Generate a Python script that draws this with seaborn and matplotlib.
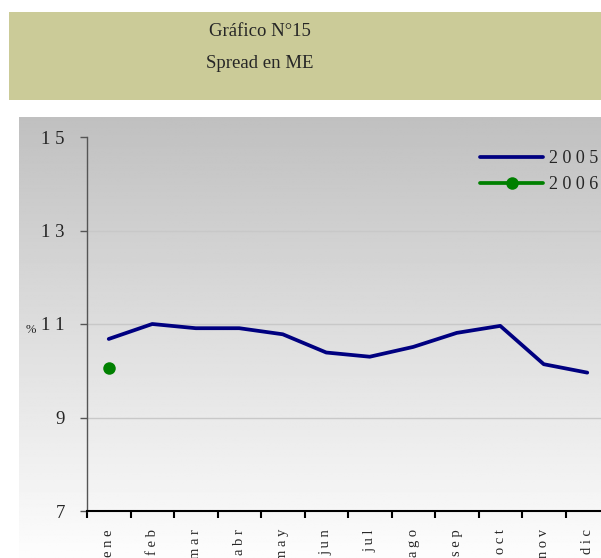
import numpy as np
import pandas as pd
import matplotlib
matplotlib.use("Agg")
import matplotlib.pyplot as plt
import seaborn as sns

meses = ["ene", "feb", "mar", "abr", "may", "jun", "jul", "ago", "sep", "oct", "nov", "dic"]
spread_2005 = [10.68, 11.0, 10.91, 10.91, 10.78, 10.39, 10.30, 10.51, 10.81, 10.96, 10.14, 9.96]
spread_2006 = [10.05]
y_ticks = [7, 9, 11, 13, 15]

sns.set_theme(style="white")
plt.rcParams["font.family"] = ["Liberation Serif", "DejaVu Serif"]


def espaciar(s):
    # el grafico original usa letras separadas
    return " ".join(str(s))


df05 = pd.DataFrame({"mes": meses, "valor": spread_2005})
df06 = pd.DataFrame({"mes": meses[:len(spread_2006)], "valor": spread_2006})

W, H = 601, 558
fig = plt.figure(figsize=(W / 100, H / 100), dpi=100)

# caja del titulo
tbox = fig.add_axes([9 / W, 1 - 100 / H, 1 - 9 / W, 88 / H])
tbox.set_facecolor("#cbcb98")
tbox.set_xticks([])
tbox.set_yticks([])
for s in tbox.spines.values():
    s.set_visible(False)
tbox.text(251 / 592, 0.78, "Gráfico N°15", ha="center", va="center", fontsize=13.5, transform=tbox.transAxes)
tbox.text(251 / 592, 0.41, "Spread en ME", ha="center", va="center", fontsize=13.5, transform=tbox.transAxes)

# fondo degradado del area del grafico
bg = fig.add_axes([19 / W, 0, 1 - 19 / W, (H - 117) / H])
grad = np.linspace(192, 253, 256)[:, None] / 255.0
bg.imshow(np.repeat(grad, 2, axis=1), cmap="gray", vmin=0, vmax=1, aspect="auto", extent=[0, 1, 0, 1], origin="upper")
bg.set_axis_off()

ax = fig.add_axes([87 / W, 47 / H, 522 / W, 374 / H])
ax.set_facecolor("none")

sns.lineplot(data=df05, x="mes", y="valor", color="#000080", lw=2.7, ax=ax, label=espaciar(2005))
sns.lineplot(data=df06, x="mes", y="valor", color="#008000", lw=2.7, marker="o", markersize=9,
             markeredgewidth=0, ax=ax, label=espaciar(2006))

ax.set_xlim(-0.5, 11.5)
ax.set_ylim(7, 15)
ax.set_yticks(y_ticks)
ax.set_yticklabels([espaciar(v) for v in y_ticks], fontsize=13.5)
ax.set_xticks(np.arange(-0.5, 12, 1))
ax.set_xticklabels([])
ax.set_xticks(range(len(meses)), minor=True)
ax.set_xticklabels([espaciar(m) for m in meses], minor=True, rotation=90, fontsize=10.5, va="top", ha="center")
ax.tick_params(axis="x", which="major", length=5, width=1.5, color="black", direction="out", bottom=True)
ax.tick_params(axis="x", which="minor", length=0, pad=13)
ax.tick_params(axis="y", length=5, width=1, color="#555555", direction="out", left=True, pad=11)
ax.set_xlabel("")
ax.set_ylabel("%", rotation=0, fontsize=9, va="center")
ax.yaxis.set_label_coords(-0.107, 0.484)

for v in [9, 11, 13]:
    ax.axhline(v, color="#c8c8c8", lw=1, zorder=0)

for side in ["top", "right"]:
    ax.spines[side].set_visible(False)
ax.spines["left"].set_color("#555555")
ax.spines["left"].set_linewidth(1)
ax.spines["bottom"].set_color("black")
ax.spines["bottom"].set_linewidth(1.5)

ax.legend(loc="upper right", bbox_to_anchor=(598 / W, 1 - 150 / H), bbox_transform=fig.transFigure,
          frameon=False, fontsize=13, handlelength=3.5, handletextpad=0.3, labelspacing=0.5,
          borderaxespad=0, borderpad=0)

fig.savefig("out.png", dpi=100)
